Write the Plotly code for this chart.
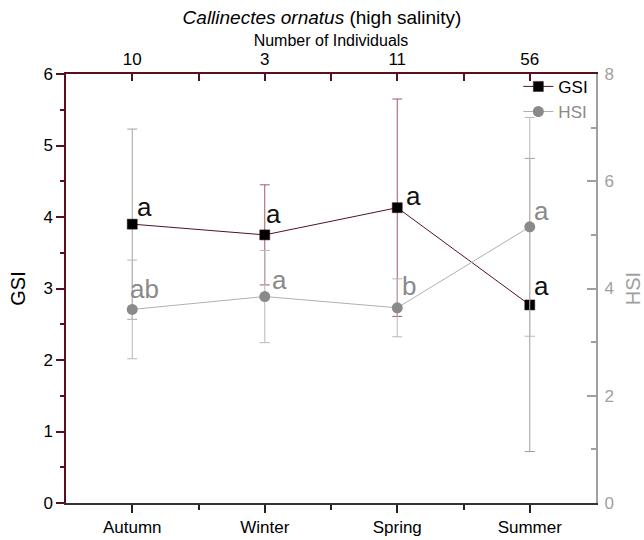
import plotly.graph_objects as go

# ---- data ----
seasons = ["Autumn", "Winter", "Spring", "Summer"]
n_individuals = ["10", "3", "11", "56"]
gsi_mean = [3.90, 3.75, 4.13, 2.77]
gsi_err = [1.33, 0.70, 1.52, 2.05]
hsi_mean = [3.61, 3.85, 3.64, 5.15]
hsi_err = [0.92, 0.86, 0.54, 2.04]
gsi_letters = ["a", "a", "a", "a"]
hsi_letters = ["ab", "a", "b", "a"]

# ---- styles ----
xpos = [1, 2, 3, 4]
gsi_err_colors = ["#a4a49c", "#a8566f", "#a8566f", "#9e9e9e"]
gsi_line_color = "#4f1322"
hsi_color = "#8a8a8a"
hsi_line_color = "#b0b0b0"
hsi_err_color = "#b8b8b8"
left_axis_color = "#5a0f1f"
right_axis_color = "#a0a0a0"
font_family = "Liberation Sans, Arial, sans-serif"
gsi_xshift = [2.5, -0.5, 6.5, 2.5]
gsi_yshift = [0.5, 3.5, -5.5, 1.5]
hsi_xshift = [-4.5, 5.5, 2.5, 2.5]
hsi_yshift = [3.5, -0.5, 4.5, -1.5]

fig = go.Figure()

# GSI error bars (coloured per season)
for i in range(len(seasons)):
    fig.add_trace(go.Scatter(
        x=[xpos[i]], y=[gsi_mean[i]], mode="markers",
        marker=dict(size=1, color="rgba(0,0,0,0)"),
        error_y=dict(type="data", array=[gsi_err[i]], color=gsi_err_colors[i],
                     thickness=1, width=5),
        showlegend=False, hoverinfo="skip", yaxis="y"))

# HSI error bars
fig.add_trace(go.Scatter(
    x=xpos, y=hsi_mean, mode="markers",
    marker=dict(size=1, color="rgba(0,0,0,0)"),
    error_y=dict(type="data", array=hsi_err, color=hsi_err_color,
                 thickness=1, width=5),
    showlegend=False, hoverinfo="skip", yaxis="y2"))

# GSI series
fig.add_trace(go.Scatter(
    x=xpos, y=gsi_mean, mode="lines+markers", name="GSI",
    line=dict(color=gsi_line_color, width=1),
    marker=dict(symbol="square", size=10, color="black",
                line=dict(color="#3a0a14", width=0.5)),
    yaxis="y"))

# HSI series
fig.add_trace(go.Scatter(
    x=xpos, y=hsi_mean, mode="lines+markers",
    name="<span style='color:#8a8a8a'>HSI</span>",
    line=dict(color=hsi_line_color, width=1),
    marker=dict(symbol="circle", size=11, color=hsi_color),
    yaxis="y2"))

# invisible trace for top axis
fig.add_trace(go.Scatter(
    x=xpos, y=gsi_mean, mode="markers", marker=dict(size=1, color="rgba(0,0,0,0)"),
    xaxis="x2", yaxis="y", showlegend=False, hoverinfo="skip"))

annotations = []
for i in range(len(seasons)):
    annotations.append(dict(
        x=xpos[i], y=gsi_mean[i], xref="x", yref="y", text=gsi_letters[i],
        showarrow=False, xanchor="left", yanchor="bottom",
        xshift=gsi_xshift[i], yshift=gsi_yshift[i],
        font=dict(size=26, color="#111111", family=font_family)))
    annotations.append(dict(
        x=xpos[i], y=hsi_mean[i], xref="x", yref="y2", text=hsi_letters[i],
        showarrow=False, xanchor="left", yanchor="bottom",
        xshift=hsi_xshift[i], yshift=hsi_yshift[i],
        font=dict(size=26, color=hsi_color, family=font_family)))

fig.update_layout(
    width=644, height=540,
    margin=dict(l=66, r=48, t=74, b=37),
    paper_bgcolor="white", plot_bgcolor="white",
    font=dict(family=font_family, size=17, color="black"),
    title=dict(text="<i>Callinectes ornatus</i> (high salinity)",
               x=0.5, xanchor="center", y=0.967, yanchor="middle",
               font=dict(size=19, color="black")),
    showlegend=True,
    legend=dict(x=0.995, xanchor="right", y=1.012, yanchor="top",
                bgcolor="rgba(0,0,0,0)", font=dict(size=17),
                tracegroupgap=0, itemwidth=30),
    annotations=annotations,
    xaxis=dict(range=[0.5, 4.5], tickmode="array", tickvals=xpos, ticktext=seasons,
               ticks="outside", ticklen=8, tickcolor="#222", tickwidth=1.5,
               automargin=False,
               showline=True, linecolor="#333", linewidth=1.5,
               showgrid=False, zeroline=False,
               minor=dict(tickmode="array", tickvals=[1.5, 2.5, 3.5], ticks="outside",
                          ticklen=5, tickcolor="#222", tickwidth=1.5),
               tickfont=dict(size=17)),
    xaxis2=dict(range=[0.5, 4.5], overlaying="x", side="top", anchor="y",
                tickmode="array", tickvals=xpos, ticktext=n_individuals,
                ticks="inside", ticklen=7, tickcolor=left_axis_color, tickwidth=1.5,
                automargin=False,
                showline=True, linecolor=left_axis_color, linewidth=1.5,
                showgrid=False, zeroline=False,
                minor=dict(tickmode="array", tickvals=[1.5, 2.5, 3.5], ticks="inside",
                           ticklen=7, tickcolor=left_axis_color, tickwidth=1.5),
                title=dict(text="Number of Individuals", font=dict(size=16), standoff=0),
                tickfont=dict(size=17)),
    yaxis=dict(range=[0, 6], tickmode="linear", tick0=0, dtick=1,
               ticks="outside", ticklen=8, tickcolor=left_axis_color, tickwidth=1.5,
               automargin=False,
               showline=True, linecolor=left_axis_color, linewidth=1.5,
               showgrid=False, zeroline=False,
               minor=dict(tick0=0, dtick=0.5, ticks="outside", ticklen=4,
                          tickcolor=left_axis_color, tickwidth=1.5),
               title=dict(text="GSI", font=dict(size=20), standoff=12),
               tickfont=dict(size=17)),
    yaxis2=dict(range=[0, 8], overlaying="y", side="right", anchor="x",
                tickmode="linear", tick0=0, dtick=2,
                ticks="inside", ticklen=9, tickcolor=right_axis_color, tickwidth=1.5,
                ticklabelstandoff=3, automargin=False,
                showline=True, linecolor=right_axis_color, linewidth=2,
                showgrid=False, zeroline=False,
                minor=dict(tick0=0, dtick=1, ticks="inside", ticklen=5,
                           tickcolor=right_axis_color, tickwidth=1.5),
                title=dict(text="HSI", font=dict(size=20, color=right_axis_color),
                           standoff=13),
                tickfont=dict(size=17, color=right_axis_color)),
)

fig.write_html("out.html")
